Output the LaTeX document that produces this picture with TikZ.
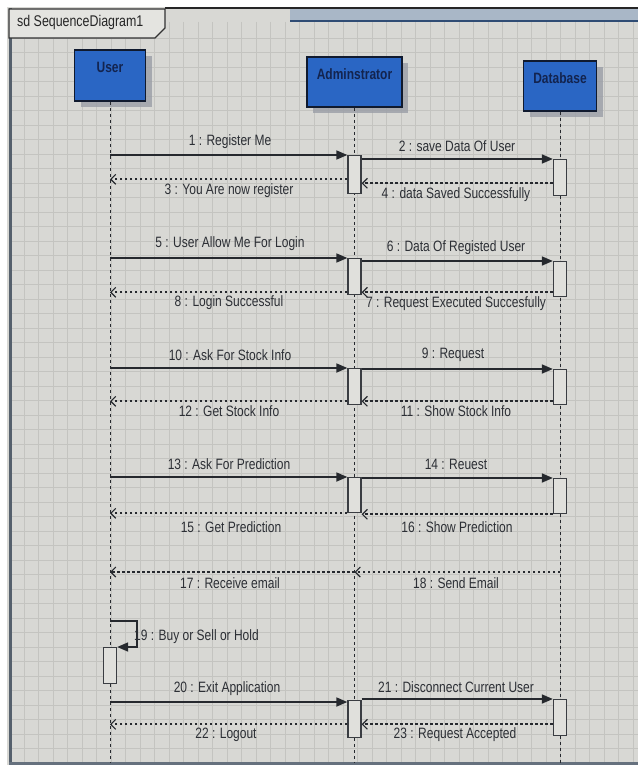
\documentclass[tikz,border=0pt]{standalone}
\usepackage{fontspec}
\setmainfont{Liberation Sans}[FakeStretch=0.8]
\usetikzlibrary{arrows.meta,shadows}
\definecolor{bgc}{HTML}{D8D8D4}
\definecolor{gridc}{HTML}{C4C4C0}
\definecolor{boxblue}{HTML}{2A66C4}
\definecolor{boxline}{HTML}{101A2E}
\definecolor{boxtxt}{HTML}{13244F}
\definecolor{msgc}{HTML}{26292E}
\definecolor{lblc}{HTML}{2C2F35}
\definecolor{actf}{HTML}{E0E0DC}
\definecolor{actc}{HTML}{3A3D42}
\definecolor{framec}{HTML}{55606C}
\definecolor{bandc}{HTML}{A9B7C7}
\definecolor{bandl}{HTML}{2F4C74}
\definecolor{tabf}{HTML}{E4E4E0}
\definecolor{shadc}{HTML}{9A9EA6}
\begin{document}
\begin{tikzpicture}[x=1pt,y=-1pt,
  head/.style={draw=boxline, line width=1.6pt, fill=boxblue, inner sep=0pt,
    drop shadow={shadow xshift=6pt, shadow yshift=-6pt, fill=shadc, opacity=0.8}},
  headtxt/.style={font=\bfseries\fontsize{15}{17}\selectfont, text=boxtxt, inner sep=0pt},
  life/.style={draw=msgc, line width=1pt, dash pattern=on 3pt off 3pt},
  act/.style={draw=actc, line width=1.3pt, fill=actf, minimum width=13pt, inner sep=0pt, anchor=north},
  call/.style={draw=msgc, line width=1.7pt, -{Triangle[length=11pt,width=9pt]}},
  ret/.style={draw=msgc, line width=1.8pt, dash pattern=on 2.4pt off 2.6pt,
    -{Straight Barb[length=5pt,width=10pt,line width=1.1pt]}},
  lbl/.style={font=\fontsize{15}{17}\selectfont, text=lblc, inner sep=1pt},
  gridl/.style={draw=gridc, line width=0.45pt}]
\useasboundingbox (0,0) rectangle (638,767);
% background
\fill[white] (0,0) rectangle (638,767);
\fill[bgc] (7,7) rectangle (638,765);
\foreach \gx in {24,38.5,...,638} \draw[gridl] (\gx,22) -- (\gx,762);
\foreach \gy in {38,52.5,...,762} \draw[gridl] (11,\gy) -- (638,\gy);
% top band and frame
\fill[bandc] (290,9) rectangle (638,20);
\draw[black!85, line width=2pt] (165,8) -- (638,8);
\draw[bandl, line width=2pt] (290,21) -- (638,21);
\draw[framec, line width=3pt] (10,8) -- (10,764);
\draw[framec!80!bandc, line width=3pt] (9,763.5) -- (638,763.5);
% title tab
\filldraw[fill=tabf, draw=black!80, line width=1.2pt] (9,9) -- (165,9) -- (165,28) -- (155,38) -- (9,38) -- cycle;
\node[font=\fontsize{15.5}{17}\selectfont, text=black!85, anchor=west, inner sep=0pt] (title) at (17,22) {sd SequenceDiagram1};
% lifeline heads
\node[head, minimum width=71pt, minimum height=51pt] (user) at (110,75.5) {};
\node[head, minimum width=95pt, minimum height=50pt] (admin) at (354.5,82) {};
\node[head, minimum width=73pt, minimum height=50pt] (db) at (560,86) {};
\node[headtxt] (usert) at (110,67) {User};
\node[headtxt] (admint) at (354.5,74) {Adminstrator};
\node[headtxt] (dbt) at (560,78) {Database};
% lifelines
\coordinate (ue) at (110,763);
\coordinate (ae) at (354.5,763);
\coordinate (de) at (560,763);
\draw[life] (user.south) -- (ue);
\draw[life] (admin.south) -- (ae);
\draw[life] (db.south) -- (de);
% activations
\node[act, minimum height=38pt] (a1) at (354.5,155) {};
\node[act, minimum height=36pt] (d1) at (560,159) {};
\node[act, minimum height=36pt] (a2) at (354.5,258) {};
\node[act, minimum height=35pt] (d2) at (560,261) {};
\node[act, minimum height=36pt] (a3) at (354.5,368) {};
\node[act, minimum height=35pt] (d3) at (560,369) {};
\node[act, minimum height=35pt] (a4) at (354.5,477) {};
\node[act, minimum height=35pt] (d4) at (560,478) {};
\node[act, minimum height=36pt] (u1) at (110,647) {};
\node[act, minimum height=37pt] (a6) at (354.5,700) {};
\node[act, minimum height=36pt] (d6) at (560,699) {};
% block 1
\draw[call] (a1.north -| user) -- (a1.north west);
\draw[call] (d1.north west -| a1.east) -- (d1.north west);
\draw[ret] ([yshift=13pt]d1.south west) coordinate (p4) -- (a1.east |- p4);
\draw[ret] ([yshift=15pt]a1.south west) coordinate (p3) -- (user |- p3);
% block 2
\draw[call] (a2.north -| user) -- (a2.north west);
\draw[call] (d2.north west -| a2.east) -- (d2.north west);
\draw[ret] ([yshift=5pt]d2.south west) coordinate (p7) -- (a2.east |- p7);
\draw[ret] ([yshift=3pt]a2.south west) coordinate (p8) -- (user |- p8);
% block 3
\draw[call] (a3.north -| user) -- (a3.north west);
\draw[call] (d3.north west -| a3.east) -- (d3.north west);
\draw[ret] ([yshift=4pt]d3.south west) coordinate (p11) -- (a3.east |- p11);
\draw[ret] ([yshift=4pt]a3.south west) coordinate (p12) -- (user |- p12);
% block 4
\draw[call] (a4.north -| user) -- (a4.north west);
\draw[call] (d4.north west -| a4.east) -- (d4.north west);
\draw[ret] (d4.south west) -- (a4.east |- d4.south west);
\draw[ret] (a4.south west) -- (user |- a4.south west);
% block 5
\coordinate (p18d) at (560,572);
\coordinate (p18a) at (354.5,572);
\coordinate (p17u) at (110,572);
\draw[ret] (p18d) -- (p18a);
\draw[ret] (p18a) -- (p17u);
% block 6 (self message)
\coordinate (s19) at (110,621);
\draw[call] (s19) -- ++(27,0) |- (u1.north east);
% block 7
\draw[call] ([yshift=-2pt]a6.north west) coordinate (p20) (user |- p20) -- (p20);
\draw[call] (d6.north west -| a6.east) -- (d6.north west);
\draw[ret] ([yshift=12pt]d6.south west) coordinate (p23) -- (a6.east |- p23);
\draw[ret] ([yshift=14pt]a6.south west) coordinate (p22) -- (user |- p22);
% labels
\node[lbl] (l1) at (230,142) {1 : Register Me};
\node[lbl] (l2) at (457,146) {2 : save Data Of User};
\node[lbl] (l3) at (229,191) {3 : You Are now register};
\node[lbl] (l4) at (456,195) {4 : data Saved Successfully};
\node[lbl] (l5) at (230,244) {5 : User Allow Me For Login};
\node[lbl] (l6) at (456,248) {6 : Data Of Registed User};
\node[lbl] (l7) at (456,304) {7 : Request Executed Succesfully};
\node[lbl] (l8) at (229,303) {8 : Login Successful};
\node[lbl] (l10) at (230,355) {10 : Ask For Stock Info};
\node[lbl] (l9) at (453,355) {9 : Request};
\node[lbl] (l11) at (456,411) {11 : Show Stock Info};
\node[lbl] (l12) at (229,411) {12 : Get Stock Info};
\node[lbl] (l13) at (229,464) {13 : Ask For Prediction};
\node[lbl] (l14) at (456,464) {14 : Reuest};
\node[lbl] (l15) at (231,527) {15 : Get Prediction};
\node[lbl] (l16) at (457,527) {16 : Show Prediction};
\node[lbl] (l17) at (230,583) {17 : Receive email};
\node[lbl] (l18) at (456,583) {18 : Send Email};
\node[lbl, anchor=west] (l19) at (133,637) {19 : Buy or Sell or Hold};
\node[lbl] (l20) at (227,689) {20 : Exit Application};
\node[lbl] (l21) at (456,687) {21 : Disconnect Current User};
\node[lbl] (l22) at (226,735) {22 : Logout};
\node[lbl] (l23) at (455,735) {23 : Request Accepted};
\end{tikzpicture}
\end{document}
